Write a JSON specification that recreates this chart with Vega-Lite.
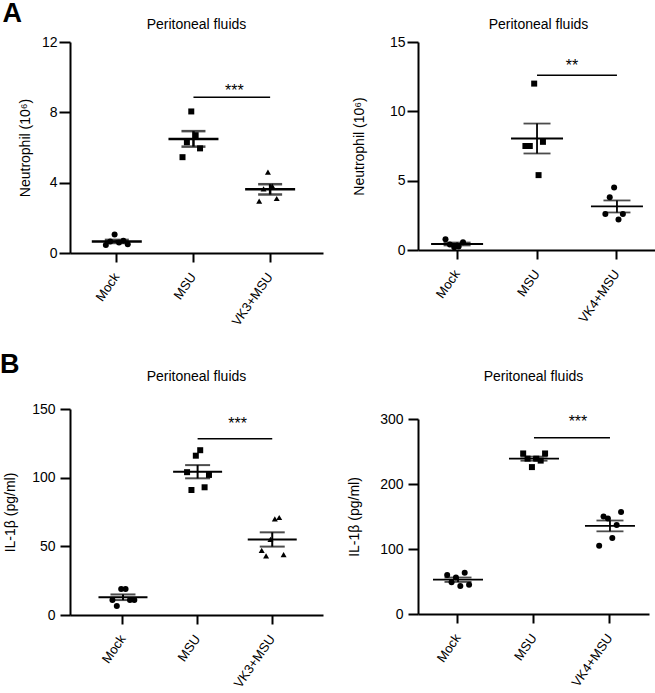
{
  "$schema": "https://vega.github.io/schema/vega-lite/v6.json",
  "padding": {"left": 0, "top": 0, "right": 0, "bottom": 0},
  "background": "white",
  "config": {
    "font": "Liberation Sans",
    "view": {"stroke": null},
    "axis": {"grid": false, "domainColor": "black", "domainWidth": 2, "tickColor": "black", "tickWidth": 2, "labelColor": "black", "titleColor": "black", "labelFont": "Liberation Sans", "titleFont": "Liberation Sans", "labelFontSize": 14, "titleFontSize": 14, "titleFontWeight": "normal"},
    "title": {"font": "Liberation Sans", "fontSize": 14, "fontWeight": "normal", "color": "black"}
  },
  "datasets": {
    "obs": [
      {"panel": "A1", "group": "Mock", "rep": 1, "value": 0.45},
      {"panel": "A1", "group": "Mock", "rep": 2, "value": 0.65},
      {"panel": "A1", "group": "Mock", "rep": 3, "value": 1.05},
      {"panel": "A1", "group": "Mock", "rep": 4, "value": 0.6},
      {"panel": "A1", "group": "Mock", "rep": 5, "value": 0.7},
      {"panel": "A1", "group": "Mock", "rep": 6, "value": 0.5},
      {"panel": "A1", "group": "MSU", "rep": 3, "value": 8.05},
      {"panel": "A1", "group": "MSU", "rep": 4, "value": 6.7},
      {"panel": "A1", "group": "MSU", "rep": 2, "value": 6.3},
      {"panel": "A1", "group": "MSU", "rep": 5, "value": 5.95},
      {"panel": "A1", "group": "MSU", "rep": 1, "value": 5.45},
      {"panel": "A1", "group": "VK3+MSU", "rep": 3, "value": 4.6},
      {"panel": "A1", "group": "VK3+MSU", "rep": 4, "value": 3.8},
      {"panel": "A1", "group": "VK3+MSU", "rep": 2, "value": 3.65},
      {"panel": "A1", "group": "VK3+MSU", "rep": 5, "value": 3.1},
      {"panel": "A1", "group": "VK3+MSU", "rep": 1, "value": 2.95},
      {"panel": "A2", "group": "Mock", "rep": 1, "value": 0.77},
      {"panel": "A2", "group": "Mock", "rep": 2, "value": 0.4},
      {"panel": "A2", "group": "Mock", "rep": 3, "value": 0.2},
      {"panel": "A2", "group": "Mock", "rep": 4, "value": 0.25},
      {"panel": "A2", "group": "Mock", "rep": 5, "value": 0.55},
      {"panel": "A2", "group": "MSU", "rep": 3, "value": 12.0},
      {"panel": "A2", "group": "MSU", "rep": 1, "value": 7.5},
      {"panel": "A2", "group": "MSU", "rep": 2, "value": 7.5},
      {"panel": "A2", "group": "MSU", "rep": 5, "value": 7.8},
      {"panel": "A2", "group": "MSU", "rep": 4, "value": 5.4},
      {"panel": "A2", "group": "VK4+MSU", "rep": 3, "value": 4.5},
      {"panel": "A2", "group": "VK4+MSU", "rep": 2, "value": 3.8},
      {"panel": "A2", "group": "VK4+MSU", "rep": 1, "value": 2.6},
      {"panel": "A2", "group": "VK4+MSU", "rep": 4, "value": 2.2},
      {"panel": "A2", "group": "VK4+MSU", "rep": 5, "value": 2.6},
      {"panel": "B1", "group": "Mock", "rep": 3, "value": 19},
      {"panel": "B1", "group": "Mock", "rep": 4, "value": 19},
      {"panel": "B1", "group": "Mock", "rep": 1, "value": 11},
      {"panel": "B1", "group": "Mock", "rep": 5, "value": 11},
      {"panel": "B1", "group": "Mock", "rep": 6, "value": 11},
      {"panel": "B1", "group": "Mock", "rep": 2, "value": 6.5},
      {"panel": "B1", "group": "MSU", "rep": 4, "value": 120},
      {"panel": "B1", "group": "MSU", "rep": 3, "value": 116},
      {"panel": "B1", "group": "MSU", "rep": 1, "value": 104},
      {"panel": "B1", "group": "MSU", "rep": 6, "value": 102},
      {"panel": "B1", "group": "MSU", "rep": 5, "value": 93},
      {"panel": "B1", "group": "MSU", "rep": 2, "value": 91},
      {"panel": "B1", "group": "VK3+MSU", "rep": 5, "value": 71},
      {"panel": "B1", "group": "VK3+MSU", "rep": 4, "value": 70},
      {"panel": "B1", "group": "VK3+MSU", "rep": 3, "value": 55},
      {"panel": "B1", "group": "VK3+MSU", "rep": 1, "value": 47},
      {"panel": "B1", "group": "VK3+MSU", "rep": 6, "value": 44},
      {"panel": "B1", "group": "VK3+MSU", "rep": 2, "value": 43},
      {"panel": "B2", "group": "Mock", "rep": 1, "value": 60},
      {"panel": "B2", "group": "Mock", "rep": 5, "value": 63.5},
      {"panel": "B2", "group": "Mock", "rep": 3, "value": 56},
      {"panel": "B2", "group": "Mock", "rep": 2, "value": 49},
      {"panel": "B2", "group": "Mock", "rep": 4, "value": 43},
      {"panel": "B2", "group": "Mock", "rep": 6, "value": 45},
      {"panel": "B2", "group": "MSU", "rep": 1, "value": 247},
      {"panel": "B2", "group": "MSU", "rep": 6, "value": 247},
      {"panel": "B2", "group": "MSU", "rep": 2, "value": 239},
      {"panel": "B2", "group": "MSU", "rep": 4, "value": 239},
      {"panel": "B2", "group": "MSU", "rep": 5, "value": 236},
      {"panel": "B2", "group": "MSU", "rep": 3, "value": 226},
      {"panel": "B2", "group": "VK4+MSU", "rep": 2, "value": 150},
      {"panel": "B2", "group": "VK4+MSU", "rep": 3, "value": 147},
      {"panel": "B2", "group": "VK4+MSU", "rep": 6, "value": 157},
      {"panel": "B2", "group": "VK4+MSU", "rep": 5, "value": 137},
      {"panel": "B2", "group": "VK4+MSU", "rep": 4, "value": 117},
      {"panel": "B2", "group": "VK4+MSU", "rep": 1, "value": 105}
    ],
    "sig": [
      {"panel": "A1", "from": "MSU", "to": "VK3+MSU", "y": 8.86, "label": "***"},
      {"panel": "A2", "from": "MSU", "to": "VK4+MSU", "y": 12.6, "label": "**"},
      {"panel": "B1", "from": "MSU", "to": "VK3+MSU", "y": 128.3, "label": "***"},
      {"panel": "B2", "from": "MSU", "to": "VK4+MSU", "y": 271.3, "label": "***"}
    ]
  },
  "spacing": 24,
  "hconcat": [
    {
      "spacing": 22,
      "vconcat": [
        {
          "title": {"text": "A", "anchor": "start", "fontSize": 27, "fontWeight": "bold", "baseline": "alphabetic", "offset": -31, "dx": -16},
          "vconcat": [
            {
              "width": 253, "height": 211,
              "title": {"text": "Peritoneal fluids", "offset": 3},
              "layer": [
                {"data": {"name": "obs"}, "transform": [{"filter": "datum.panel === 'A1'"}],
                 "mark": {"type": "point", "filled": true, "size": 36, "opacity": 1, "color": "black"},
                 "encoding": {
                   "x": {"field": "group", "type": "nominal", "scale": {"type": "band", "domain": ["Mock", "MSU", "VK3+MSU"], "paddingInner": 0.6, "paddingOuter": 0.45, "align": 0.456}, "axis": {"title": null, "labelAngle": -55, "labelFontSize": 13, "tickSize": 9, "labelPadding": 12}},
                   "xOffset": {"field": "rep", "type": "nominal", "scale": {"paddingInner": 0, "paddingOuter": 1.7}},
                   "y": {"field": "value", "type": "quantitative", "scale": {"domain": [0, 12], "nice": false}, "axis": {"values": [0, 4, 8, 12], "title": "Neutrophil (10⁶)", "tickSize": 11, "labelPadding": 2, "titlePadding": 9}},
                   "shape": {"field": "group", "type": "nominal", "scale": {"domain": ["Mock", "MSU", "VK3+MSU"], "range": ["circle", "square", "triangle-up"]}, "legend": null}
                 }},
                {"data": {"name": "obs"}, "transform": [{"filter": "datum.panel === 'A1'"}],
                 "mark": {"type": "tick", "size": 50, "thickness": 2.5, "color": "black"},
                 "encoding": {
                   "x": {"field": "group", "type": "nominal"},
                   "y": {"aggregate": "mean", "field": "value", "type": "quantitative", "title": "Neutrophil (10⁶)"}
                 }},
                {"data": {"name": "obs"}, "transform": [{"filter": "datum.panel === 'A1'"}],
                 "mark": {"type": "errorbar", "extent": "stderr", "ticks": true, "size": 24, "thickness": 2.5, "color": "black"},
                 "encoding": {
                   "x": {"field": "group", "type": "nominal"},
                   "y": {"field": "value", "type": "quantitative", "title": "Neutrophil (10⁶)"}
                 }},
                {"data": {"name": "sig"}, "transform": [{"filter": "datum.panel === 'A1'"}],
                 "mark": {"type": "rule", "strokeWidth": 1.5, "color": "black"},
                 "encoding": {
                   "x": {"field": "from", "type": "nominal"},
                   "x2": {"field": "to"},
                   "y": {"field": "y", "type": "quantitative", "title": "Neutrophil (10⁶)"}
                 }},
                {"data": {"name": "sig"}, "transform": [{"filter": "datum.panel === 'A1'"}],
                 "mark": {"type": "text", "fontSize": 16, "baseline": "alphabetic", "dx": 41, "dy": -1.5, "color": "black"},
                 "encoding": {
                   "x": {"field": "from", "type": "nominal"},
                   "y": {"field": "y", "type": "quantitative", "title": "Neutrophil (10⁶)"},
                   "text": {"field": "label"}
                 }}
              ]
            }
          ]
        },
        {
          "title": {"text": "B", "anchor": "start", "fontSize": 27, "fontWeight": "bold", "baseline": "alphabetic", "offset": -30, "dx": -3},
          "vconcat": [
            {
              "width": 253, "height": 206,
              "title": {"text": "Peritoneal fluids", "offset": 18},
              "layer": [
                {"data": {"name": "obs"}, "transform": [{"filter": "datum.panel === 'B1'"}],
                 "mark": {"type": "point", "filled": true, "size": 36, "opacity": 1, "color": "black"},
                 "encoding": {
                   "x": {"field": "group", "type": "nominal", "scale": {"type": "band", "domain": ["Mock", "MSU", "VK3+MSU"], "paddingInner": 0.6, "paddingOuter": 0.495, "align": 0.515}, "axis": {"title": null, "labelAngle": -55, "labelFontSize": 13, "tickSize": 9, "labelPadding": 12}},
                   "xOffset": {"field": "rep", "type": "nominal", "scale": {"paddingInner": 0, "paddingOuter": 1.7}},
                   "y": {"field": "value", "type": "quantitative", "scale": {"domain": [0, 150], "nice": false}, "axis": {"values": [0, 50, 100, 150], "title": "IL-1β (pg/ml)", "titlePadding": 14.6, "tickSize": 10, "labelPadding": 5}},
                   "shape": {"field": "group", "type": "nominal", "scale": {"domain": ["Mock", "MSU", "VK3+MSU"], "range": ["circle", "square", "triangle-up"]}, "legend": null}
                 }},
                {"data": {"name": "obs"}, "transform": [{"filter": "datum.panel === 'B1'"}],
                 "mark": {"type": "tick", "size": 49, "thickness": 2, "color": "black"},
                 "encoding": {
                   "x": {"field": "group", "type": "nominal"},
                   "y": {"aggregate": "mean", "field": "value", "type": "quantitative", "title": "IL-1β (pg/ml)"}
                 }},
                {"data": {"name": "obs"}, "transform": [{"filter": "datum.panel === 'B1'"}],
                 "mark": {"type": "errorbar", "extent": "stderr", "ticks": true, "size": 25, "thickness": 2, "color": "black"},
                 "encoding": {
                   "x": {"field": "group", "type": "nominal"},
                   "y": {"field": "value", "type": "quantitative", "title": "IL-1β (pg/ml)"}
                 }},
                {"data": {"name": "sig"}, "transform": [{"filter": "datum.panel === 'B1'"}],
                 "mark": {"type": "rule", "strokeWidth": 1.5, "color": "black"},
                 "encoding": {
                   "x": {"field": "from", "type": "nominal"},
                   "x2": {"field": "to"},
                   "y": {"field": "y", "type": "quantitative", "title": "IL-1β (pg/ml)"}
                 }},
                {"data": {"name": "sig"}, "transform": [{"filter": "datum.panel === 'B1'"}],
                 "mark": {"type": "text", "fontSize": 16, "baseline": "alphabetic", "dx": 40, "dy": -9.7, "color": "black"},
                 "encoding": {
                   "x": {"field": "from", "type": "nominal"},
                   "y": {"field": "y", "type": "quantitative", "title": "IL-1β (pg/ml)"},
                   "text": {"field": "label"}
                 }}
              ]
            }
          ]
        }
      ]
    },
    {
      "spacing": 44,
      "vconcat": [
        {
          "width": 241, "height": 208,
          "title": {"text": "Peritoneal fluids", "offset": 3},
          "layer": [
            {"data": {"name": "obs"}, "transform": [{"filter": "datum.panel === 'A2'"}],
             "mark": {"type": "point", "filled": true, "size": 36, "opacity": 1, "color": "black"},
             "encoding": {
               "x": {"field": "group", "type": "nominal", "scale": {"type": "band", "domain": ["Mock", "MSU", "VK4+MSU"], "paddingInner": 0.6, "paddingOuter": 0.3075, "align": 0.47}, "axis": {"title": null, "labelAngle": -55, "labelFontSize": 13, "tickSize": 9, "labelPadding": 12}},
               "xOffset": {"field": "rep", "type": "nominal", "scale": {"paddingInner": 0, "paddingOuter": 1.7}},
               "y": {"field": "value", "type": "quantitative", "scale": {"domain": [0, 15], "nice": false}, "axis": {"values": [0, 5, 10, 15], "title": "Neutrophil (10⁶)", "tickSize": 11, "labelPadding": 2, "titlePadding": 23}},
               "shape": {"field": "group", "type": "nominal", "scale": {"domain": ["Mock", "MSU", "VK4+MSU"], "range": ["circle", "square", "triangle-up"]}, "legend": null}
             }},
            {"data": {"name": "obs"}, "transform": [{"filter": "datum.panel === 'A2'"}],
             "mark": {"type": "tick", "size": 52, "thickness": 1.8, "color": "black"},
             "encoding": {
               "x": {"field": "group", "type": "nominal"},
               "y": {"aggregate": "mean", "field": "value", "type": "quantitative", "title": "Neutrophil (10⁶)"}
             }},
            {"data": {"name": "obs"}, "transform": [{"filter": "datum.panel === 'A2'"}],
             "mark": {"type": "errorbar", "extent": "stderr", "ticks": true, "size": 27, "thickness": 1.8, "color": "black"},
             "encoding": {
               "x": {"field": "group", "type": "nominal"},
               "y": {"field": "value", "type": "quantitative", "title": "Neutrophil (10⁶)"}
             }},
            {"data": {"name": "sig"}, "transform": [{"filter": "datum.panel === 'A2'"}],
             "mark": {"type": "rule", "strokeWidth": 1.5, "color": "black"},
             "encoding": {
               "x": {"field": "from", "type": "nominal"},
               "x2": {"field": "to"},
               "y": {"field": "y", "type": "quantitative", "title": "Neutrophil (10⁶)"}
             }},
            {"data": {"name": "sig"}, "transform": [{"filter": "datum.panel === 'A2'"}],
             "mark": {"type": "text", "fontSize": 16, "baseline": "alphabetic", "dx": 35, "dy": -4.7, "color": "black"},
             "encoding": {
               "x": {"field": "from", "type": "nominal"},
               "y": {"field": "y", "type": "quantitative", "title": "Neutrophil (10⁶)"},
               "text": {"field": "label"}
             }}
          ]
        },
        {
          "width": 231, "height": 195,
          "title": {"text": "Peritoneal fluids", "offset": 28},
          "layer": [
            {"data": {"name": "obs"}, "transform": [{"filter": "datum.panel === 'B2'"}],
             "mark": {"type": "point", "filled": true, "size": 36, "opacity": 1, "color": "black"},
             "encoding": {
               "x": {"field": "group", "type": "nominal", "scale": {"type": "band", "domain": ["Mock", "MSU", "VK4+MSU"], "paddingInner": 0.6, "paddingOuter": 0.32, "align": 0.51}, "axis": {"title": null, "labelAngle": -55, "labelFontSize": 13, "tickSize": 9, "labelPadding": 12}},
               "xOffset": {"field": "rep", "type": "nominal", "scale": {"paddingInner": 0, "paddingOuter": 1.7}},
               "y": {"field": "value", "type": "quantitative", "scale": {"domain": [0, 300], "nice": false}, "axis": {"values": [0, 100, 200, 300], "title": "IL-1β (pg/ml)", "titlePadding": 18.6, "tickSize": 10, "labelPadding": 5}},
               "shape": {"field": "group", "type": "nominal", "scale": {"domain": ["Mock", "MSU", "VK4+MSU"], "range": ["circle", "square", "triangle-up"]}, "legend": null}
             }},
            {"data": {"name": "obs"}, "transform": [{"filter": "datum.panel === 'B2'"}],
             "mark": {"type": "tick", "size": 50, "thickness": 1.8, "color": "black"},
             "encoding": {
               "x": {"field": "group", "type": "nominal"},
               "y": {"aggregate": "mean", "field": "value", "type": "quantitative", "title": "IL-1β (pg/ml)"}
             }},
            {"data": {"name": "obs"}, "transform": [{"filter": "datum.panel === 'B2'"}],
             "mark": {"type": "errorbar", "extent": "stderr", "ticks": true, "size": 27, "thickness": 1.8, "color": "black"},
             "encoding": {
               "x": {"field": "group", "type": "nominal"},
               "y": {"field": "value", "type": "quantitative", "title": "IL-1β (pg/ml)"}
             }},
            {"data": {"name": "sig"}, "transform": [{"filter": "datum.panel === 'B2'"}],
             "mark": {"type": "rule", "strokeWidth": 1.5, "color": "black"},
             "encoding": {
               "x": {"field": "from", "type": "nominal"},
               "x2": {"field": "to"},
               "y": {"field": "y", "type": "quantitative", "title": "IL-1β (pg/ml)"}
             }},
            {"data": {"name": "sig"}, "transform": [{"filter": "datum.panel === 'B2'"}],
             "mark": {"type": "text", "fontSize": 16, "baseline": "alphabetic", "dx": 44, "dy": -10.4, "color": "black"},
             "encoding": {
               "x": {"field": "from", "type": "nominal"},
               "y": {"field": "y", "type": "quantitative", "title": "IL-1β (pg/ml)"},
               "text": {"field": "label"}
             }}
          ]
        }
      ]
    }
  ]
}
